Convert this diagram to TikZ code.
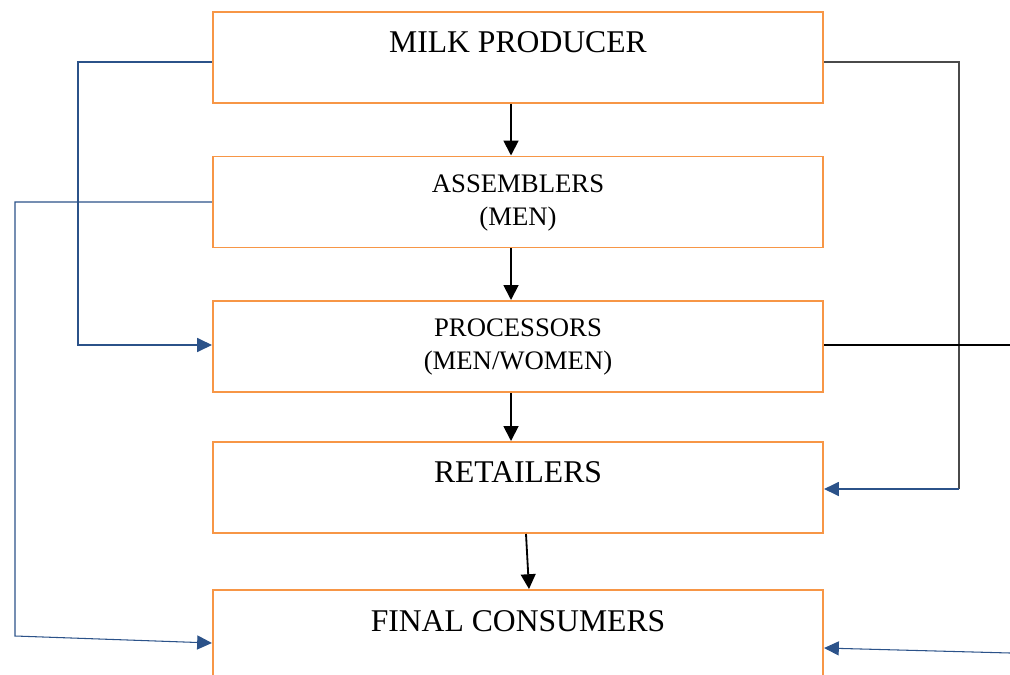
\documentclass[tikz,border=0pt]{standalone}
\usepackage{fontspec}
\setmainfont{Liberation Serif}
\usetikzlibrary{arrows.meta,positioning}
\definecolor{boxorange}{HTML}{F79646}
\definecolor{linkblue}{HTML}{2B5289}
\definecolor{linkgray}{HTML}{4A4A4A}

\begin{document}
\begin{tikzpicture}[x=0.025cm, y=-0.025cm,
  stage/.style = {draw = boxorange, line width = 1.4pt, shape = rectangle, minimum width = 15.25cm, minimum height = 2.275cm},
  bigtext/.style = {font = \fontsize{22.5}{27}\selectfont, inner sep = 0pt},
  smalltext/.style = {font = \fontsize{19}{23.5}\selectfont, align = center, inner sep = 0pt},
  down/.style = {line width = 1.3pt, -{Triangle[length = 10.5pt, width = 10.5pt]}},
  side/.style = {draw = linkblue, line width = 0.75pt, -{Triangle[length = 10.5pt, width = 10pt, fill = linkblue]}}]
\useasboundingbox (0,0) rectangle (1010,675);
\clip (0,0) rectangle (1010,675);

% the chain of stages
\node[stage] (prod) at (518,57.5) {};
\node[stage] (asm) at (518,202) {};
\node[stage] (proc) at (518,346.5) {};
\node[stage] (ret) at (518,487.5) {};
\node[stage] (cons) at (518,635.5) {};

\node[bigtext] (prodlbl) at (518,42) {MILK PRODUCER};
\node[smalltext] (asmlbl) at (518,203) {ASSEMBLERS\\(MEN)};
\node[smalltext] (proclbl) at (518,347) {PROCESSORS\\(MEN/WOMEN)};
\node[bigtext] (retlbl) at (518,472) {RETAILERS};
\node[bigtext] (conslbl) at (518,621) {FINAL CONSUMERS};

\draw[down] (prod.south -| 511,0) -- (asm.north -| 511,0);
\draw[down] (asm.south -| 511,0) -- (proc.north -| 511,0);
\draw[down] (proc.south -| 511,0) -- (ret.north -| 511,0);
\draw[down] (ret.south -| 526,0) -- (cons.north -| 529,0);

% links that skip stages
\coordinate (rbend) at (959,489);
\coordinate (procout) at (1010,345);
\coordinate (consin) at (1010,653);
\coordinate (consleft) at (15,636);

\draw[side] (prod.west |- 0,62) -- (78,62) -- (78,345) -- (proc.west |- 0,345);
\draw[side] (asm.west |- 0,202) -- (15,202) -- (consleft) -- (cons.west |- 0,643);
\draw[draw = linkgray, line width = 0.9pt] (prod.east |- 0,62) -- (959,62) -- (rbend);
\draw[side] (rbend) -- (ret.east |- rbend);
\draw[line width = 0.75pt] (proc.east |- procout) -- (procout);
\draw[side] (consin) -- (cons.east |- 0,648);
\end{tikzpicture}
\end{document}
